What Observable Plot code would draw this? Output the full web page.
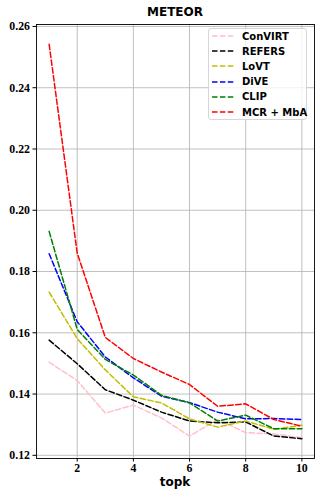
<!DOCTYPE html>
<html>
<head>
<meta charset="utf-8">
<script src="https://cdn.jsdelivr.net/npm/d3@7"></script>
<script src="https://cdn.jsdelivr.net/npm/@observablehq/plot@0.6"></script>
<style>
  html, body { margin: 0; padding: 0; background: #fff; }
  #wrap { position: relative; width: 321px; height: 500px; }
  #title { position: absolute; left: 0; width: 350px; top: 5px; text-align: center; font: bold 12px "DejaVu Sans", sans-serif; color: #000; }
  #xlabel { position: absolute; left: 36px; width: 278px; top: 475px; text-align: center; font: bold 12px "DejaVu Sans", sans-serif; color: #000; }
  #legend { position: absolute; left: 208px; top: 28px; width: 99px; height: 92px; border: 1px solid #d6d6d6; border-radius: 3px; background: rgba(255,255,255,0.8); box-sizing: border-box; }
  .row { position: absolute; left: 3px; height: 14px; display: flex; align-items: center; font: bold 10px "DejaVu Sans", sans-serif; color: #000; white-space: nowrap; }
  .row svg { margin-right: 8px; }
</style>
</head>
<body>
<div id="wrap">
  <div id="chart"></div>
  <div id="title">METEOR</div>
  <div id="xlabel">topk</div>
  <div id="legend"></div>
</div>
<script>
const topk = [1, 2, 3, 4, 5, 6, 7, 8, 9, 10];
const models = ["ConVIRT", "REFERS", "LoVT", "DiVE", "CLIP", "MCR + MbA"];
const colors = ["#ffc0cb", "#000000", "#bfbf00", "#0000ff", "#008000", "#ff0000"];
const convirt = [0.1504, 0.1444, 0.1338, 0.1364, 0.1322, 0.1263, 0.1317, 0.1274, 0.1270, 0.1257];
const refers  = [0.1576, 0.1499, 0.1414, 0.1380, 0.1341, 0.1312, 0.1306, 0.1309, 0.1263, 0.1254];
const lovt    = [0.1733, 0.1581, 0.1479, 0.1391, 0.1371, 0.1319, 0.1292, 0.1312, 0.1285, 0.1298];
const dive    = [0.1858, 0.1636, 0.1521, 0.1453, 0.1393, 0.1372, 0.1341, 0.1319, 0.1320, 0.1317];
const clip    = [0.1931, 0.1611, 0.1513, 0.1462, 0.1396, 0.1371, 0.1312, 0.1331, 0.1287, 0.1287];
const mcr     = [0.2542, 0.1860, 0.1585, 0.1516, 0.1472, 0.1431, 0.1360, 0.1368, 0.1317, 0.1295];
const yTicks = [0.12, 0.14, 0.16, 0.18, 0.20, 0.22, 0.24, 0.26];
const xTicks = [2, 4, 6, 8, 10];

const series = [convirt, refers, lovt, dive, clip, mcr];
const data = models.flatMap((m, i) => topk.map((k, j) => ({model: m, topk: k, value: series[i][j]})));

const allV = data.map(d => d.value);
const ymin = d3.min(allV), ymax = d3.max(allV);
const ypad = (ymax - ymin) * 0.05;
const xpad = (d3.max(topk) - d3.min(topk)) * 0.05;

const chart = Plot.plot({
  width: 321,
  height: 500,
  marginLeft: 36,
  marginRight: 7,
  marginTop: 24,
  marginBottom: 42,
  style: {background: "#fff", color: "#000"},
  x: {domain: [d3.min(topk) - xpad, d3.max(topk) + xpad]},
  y: {domain: [ymin - ypad, ymax + ypad]},
  color: {domain: models, range: colors},
  marks: [
    Plot.gridX(xTicks, {stroke: "#b0b0b0", strokeOpacity: 1, strokeWidth: 0.8}),
    Plot.gridY(yTicks, {stroke: "#b0b0b0", strokeOpacity: 1, strokeWidth: 0.8}),
    Plot.line(data, {x: "topk", y: "value", z: "model", stroke: "model", strokeWidth: 1.5, strokeDasharray: "5.5,2.4"}),
    Plot.frame({stroke: "#000", strokeWidth: 0.9}),
    Plot.axisX(xTicks, {tickSize: 3.5, tickPadding: 2, label: null}),
    Plot.axisY(yTicks, {tickSize: 3.5, tickPadding: 3, tickFormat: d3.format(".2f"), label: null})
  ]
});
d3.select(chart).selectAll("text")
  .style("font-family", "'Liberation Serif', 'Times New Roman', serif")
  .style("font-weight", "bold")
  .style("font-size", "11.8px");
document.getElementById("chart").appendChild(chart);

const legend = document.getElementById("legend");
models.forEach((m, i) => {
  const row = document.createElement("div");
  row.className = "row";
  row.style.top = (0 + i * 15.2) + "px";
  row.innerHTML = `<svg width="22" height="4"><line x1="0" y1="2" x2="22" y2="2" stroke="${colors[i]}" stroke-width="1.5" stroke-dasharray="5.5,2.4"/></svg><span>${m}</span>`;
  legend.appendChild(row);
});
</script>
</body>
</html>
